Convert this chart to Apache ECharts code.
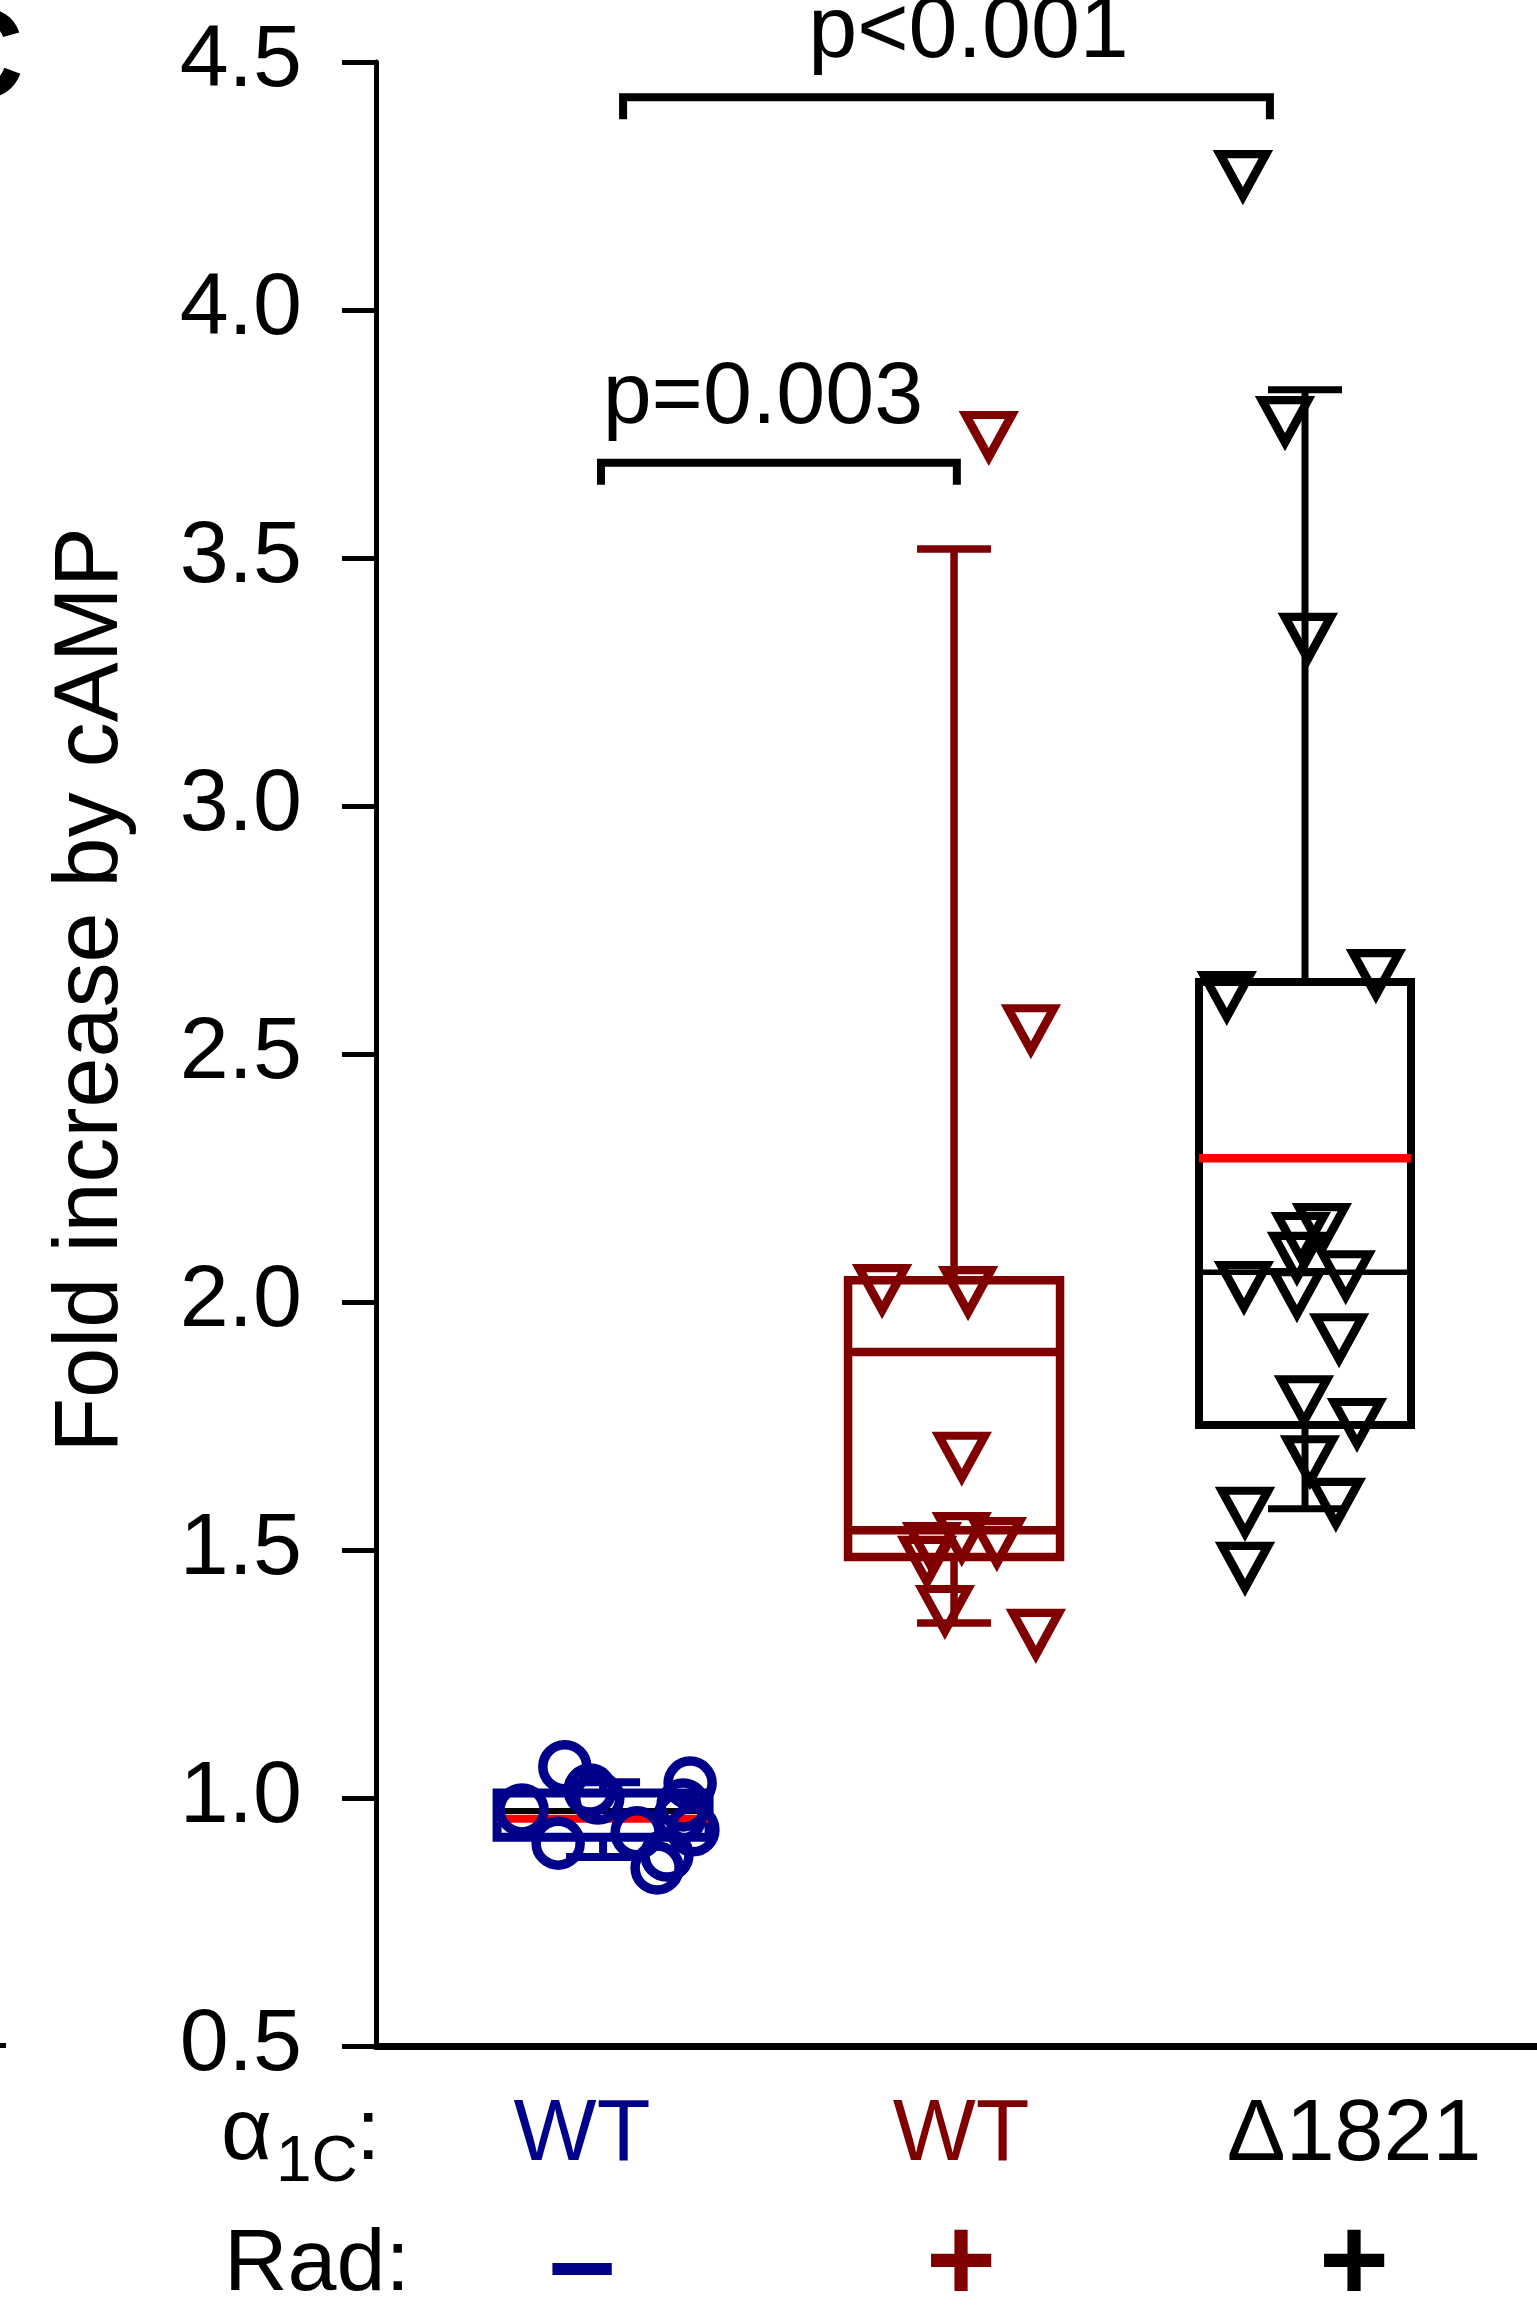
<!DOCTYPE html>
<html>
<head>
<meta charset="utf-8">
<script src="https://cdn.jsdelivr.net/npm/echarts@6/dist/echarts.min.js"></script>
<style>
    html, body { margin: 0; padding: 0; background: #fff; }
    #chart-div { width: 1537px; height: 2315px; }
</style>
</head>
<body>
<div id="chart-div"></div>
<script>
// ryhmien nimet (alfa1C ja Rad)
const groupNames = ['WT', 'WT', 'Δ1821']
const radLabels = ['–', '+', '+']
const groupPos = [1, 2, 3]
const labelPos = [0.94, 2.02, 3.14] // tekstien keskikohdat x-akselilla

// yksittäiset pisteet: x = ryhmä + hajonta, y = arvo
const wtMinusX = [0.769, 0.891, 0.963, 0.985, 0.872, 1.248, 1.228, 1.256, 1.154, 1.182, 1.097, 1.219]
const wtMinusY = [0.976, 1.063, 1.016, 1.000, 0.909, 1.030, 0.986, 0.936, 0.859, 0.885, 0.930, 0.962]

const wtPlusX = [2.099, 2.219, 1.795, 2.040, 2.022, 2.022, 2.122, 1.937, 1.923, 1.974, 2.233]
const wtPlusY = [3.746, 2.550, 2.026, 2.022, 1.688, 1.526, 1.516, 1.506, 1.478, 1.379, 1.331]

const delPlusX = [2.823, 2.943, 3.008, 3.202, 2.777, 3.048, 2.988, 2.977, 3.116, 2.826, 2.977, 3.097, 2.997, 3.148, 3.014, 3.088, 2.829, 2.829]
const delPlusY = [4.272, 3.776, 3.339, 2.661, 2.617, 2.149, 2.131, 2.091, 2.054, 2.032, 2.018, 1.927, 1.802, 1.756, 1.681, 1.595, 1.577, 1.466]

// laatikot: alaviiksi, Q1, mediaani, Q3, yläviiksi, keskiarvo
const boxLow = [0.881, 1.353, 1.583]
const boxQ1 = [0.921, 1.486, 1.752]
const boxMedian = [0.974, 1.540, 2.060]
const boxQ3 = [1.010, 2.044, 2.645]
const boxHigh = [1.032, 3.518, 3.839]
const boxMean = [0.958, 1.899, 2.290]

// merkitsevyysviivat
const sigX1 = [0.994, 1.057]
const sigX2 = [2.008, 2.900]
const sigY = [3.692, 4.429]
const sigText = ['p=0.003', 'p<0.001']

const yMin = 0.5
const yMax = 4.5
const yStep = 0.5

const FONT = 'Liberation Sans, Arial, sans-serif'
const BLUE = '#00008B'
const DARKRED = '#800000'
const groupColors = [BLUE, DARKRED, '#000000']
const medianColors = ['#000000', DARKRED, '#000000']
const meanColors = ['#ff0000', DARKRED, '#ff0000']
const boxLineW = [9, 8.5, 8]
const medianLineW = [6, 8.5, 5.5]
const meanLineW = [8, 8.5, 8.5]

function toPoints(xs, ys) {
    return xs.map((x, i) => [x, ys[i]])
}

function line(x1, y1, x2, y2, color, w) {
    return { type: 'line', shape: { x1: x1, y1: y1, x2: x2, y2: y2 }, style: { stroke: color, lineWidth: w } }
}

function renderBox(params, api) {
    const i = params.dataIndex
    const x = api.value(0)
    const cx = api.coord([x, api.value(3)])[0]
    const yLow = api.coord([x, api.value(1)])[1]
    const yQ1 = api.coord([x, api.value(2)])[1]
    const yMed = api.coord([x, api.value(3)])[1]
    const yQ3 = api.coord([x, api.value(4)])[1]
    const yHigh = api.coord([x, api.value(5)])[1]
    const yMean = api.coord([x, api.value(6)])[1]
    const half = 106
    const cap = 37
    const col = groupColors[i]
    const w = boxLineW[i]
    return {
        type: 'group',
        children: [
            line(cx, yQ3, cx, yHigh, col, w - 1),
            line(cx, yQ1, cx, yLow, col, w - 1),
            line(cx - cap, yHigh, cx + cap, yHigh, col, w - 1),
            line(cx - cap, yLow, cx + cap, yLow, col, w - 1),
            { type: 'rect', shape: { x: cx - half, y: yQ3, width: 2 * half, height: yQ1 - yQ3 },
              style: { fill: 'none', stroke: col, lineWidth: w } },
            line(cx - half, yMed, cx + half, yMed, medianColors[i], medianLineW[i]),
            line(cx - half, yMean, cx + half, yMean, meanColors[i], meanLineW[i])
        ]
    }
}

const textDx = [-16, 22]
function renderBracket(params, api) {
    const i = params.dataIndex
    const p1 = api.coord([api.value(0), api.value(2)])
    const p2 = api.coord([api.value(1), api.value(2)])
    const drop = 22
    return {
        type: 'group',
        children: [
            { type: 'polyline', shape: { points: [[p1[0], p1[1] + drop], p1, p2, [p2[0], p2[1] + drop]] },
              style: { stroke: '#000', lineWidth: 8, fill: 'none' } },
            { type: 'text', x: (p1[0] + p2[0]) / 2 + textDx[i], y: p1[1] - 64,
              style: { text: sigText[i], font: '88px ' + FONT, fill: '#000', align: 'center', verticalAlign: 'middle' } }
        ]
    }
}

const richStyles = {}
groupColors.forEach((c, i) => {
    richStyles['t' + i] = { color: c, fontSize: 88, fontFamily: FONT, lineHeight: 132 }
    richStyles['s' + i] = { color: c, fontSize: 120, fontWeight: 'bold', fontFamily: FONT, lineHeight: 132 }
})

let myChart = echarts.init(document.getElementById('chart-div'))

const option = {
    animation: false,
    backgroundColor: '#fff',
    grid: { left: 376, right: 0, top: 62, bottom: 269, containLabel: false, outerBoundsMode: 'none' },
    xAxis: {
        type: 'value',
        min: 0.353,
        max: 3.661,
        axisLine: { onZero: false, lineStyle: { color: '#000', width: 7 } },
        axisTick: { show: false },
        splitLine: { show: false },
        axisLabel: {
            customValues: labelPos,
            margin: 24,
            formatter: function (v) {
                let i = 0
                labelPos.forEach((p, k) => { if (Math.abs(p - v) < Math.abs(labelPos[i] - v)) i = k })
                return '{t' + i + '|' + groupNames[i] + '}\n{s' + i + '|' + radLabels[i] + '}'
            },
            rich: richStyles
        }
    },
    yAxis: {
        type: 'value',
        min: yMin,
        max: yMax,
        interval: yStep,
        axisLine: { show: true, onZero: false, lineStyle: { color: '#000', width: 5 } },
        axisTick: { show: true, inside: false, length: 34, lineStyle: { color: '#000', width: 5 } },
        splitLine: { show: false },
        axisLabel: {
            margin: 74,
            color: '#000',
            fontSize: 88,
            fontFamily: FONT,
            formatter: v => v.toFixed(1)
        }
    },
    graphic: [
        { type: 'text', x: 92, y: 990, rotation: Math.PI / 2,
          style: { text: 'Fold increase by cAMP', font: '90px ' + FONT, fill: '#000', align: 'center', verticalAlign: 'middle' } },
        { type: 'text', x: 221, y: 2135,
          style: { text: 'α', font: '88px ' + FONT, fill: '#000', align: 'left', verticalAlign: 'middle' } },
        { type: 'text', x: 276, y: 2163,
          style: { text: '1C', font: '64px ' + FONT, fill: '#000', align: 'left', verticalAlign: 'middle' } },
        { type: 'text', x: 356, y: 2135,
          style: { text: ':', font: '88px ' + FONT, fill: '#000', align: 'left', verticalAlign: 'middle' } },
        { type: 'text', x: 224, y: 2266,
          style: { text: 'Rad:', font: '88px ' + FONT, fill: '#000', align: 'left', verticalAlign: 'middle' } },
        { type: 'text', x: 24, y: 63,
          style: { text: 'C', font: 'bold 128px ' + FONT, fill: '#000', align: 'right', verticalAlign: 'middle' } },
        { type: 'rect', shape: { x: 0, y: 2043, width: 6, height: 5 }, style: { fill: '#000' } }
    ],
    series: [
        {
            type: 'custom',
            name: 'boxes',
            renderItem: renderBox,
            encode: { x: 0, y: [1, 2, 3, 4, 5, 6] },
            data: groupPos.map((x, i) => [x, boxLow[i], boxQ1[i], boxMedian[i], boxQ3[i], boxHigh[i], boxMean[i]]),
            silent: true
        },
        {
            type: 'scatter',
            name: 'WT -',
            symbol: 'circle',
            symbolSize: 44,
            itemStyle: { color: 'rgba(0,0,0,0)', borderColor: BLUE, borderWidth: 9.5, opacity: 1 },
            data: toPoints(wtMinusX, wtMinusY),
            silent: true
        },
        {
            type: 'scatter',
            name: 'WT +',
            symbol: 'triangle',
            symbolRotate: 180,
            symbolSize: [46, 42],
            itemStyle: { color: 'rgba(0,0,0,0)', borderColor: DARKRED, borderWidth: 8.5, opacity: 1 },
            data: toPoints(wtPlusX, wtPlusY),
            silent: true
        },
        {
            type: 'scatter',
            name: 'Δ1821 +',
            symbol: 'triangle',
            symbolRotate: 180,
            symbolSize: [46, 42],
            itemStyle: { color: 'rgba(0,0,0,0)', borderColor: '#000', borderWidth: 8.5, opacity: 1 },
            data: toPoints(delPlusX, delPlusY),
            silent: true
        },
        {
            type: 'custom',
            name: 'brackets',
            renderItem: renderBracket,
            encode: { x: [0, 1], y: 2 },
            data: sigText.map((t, i) => [sigX1[i], sigX2[i], sigY[i]]),
            silent: true
        }
    ]
}

myChart.setOption(option)
</script>
</body>
</html>
